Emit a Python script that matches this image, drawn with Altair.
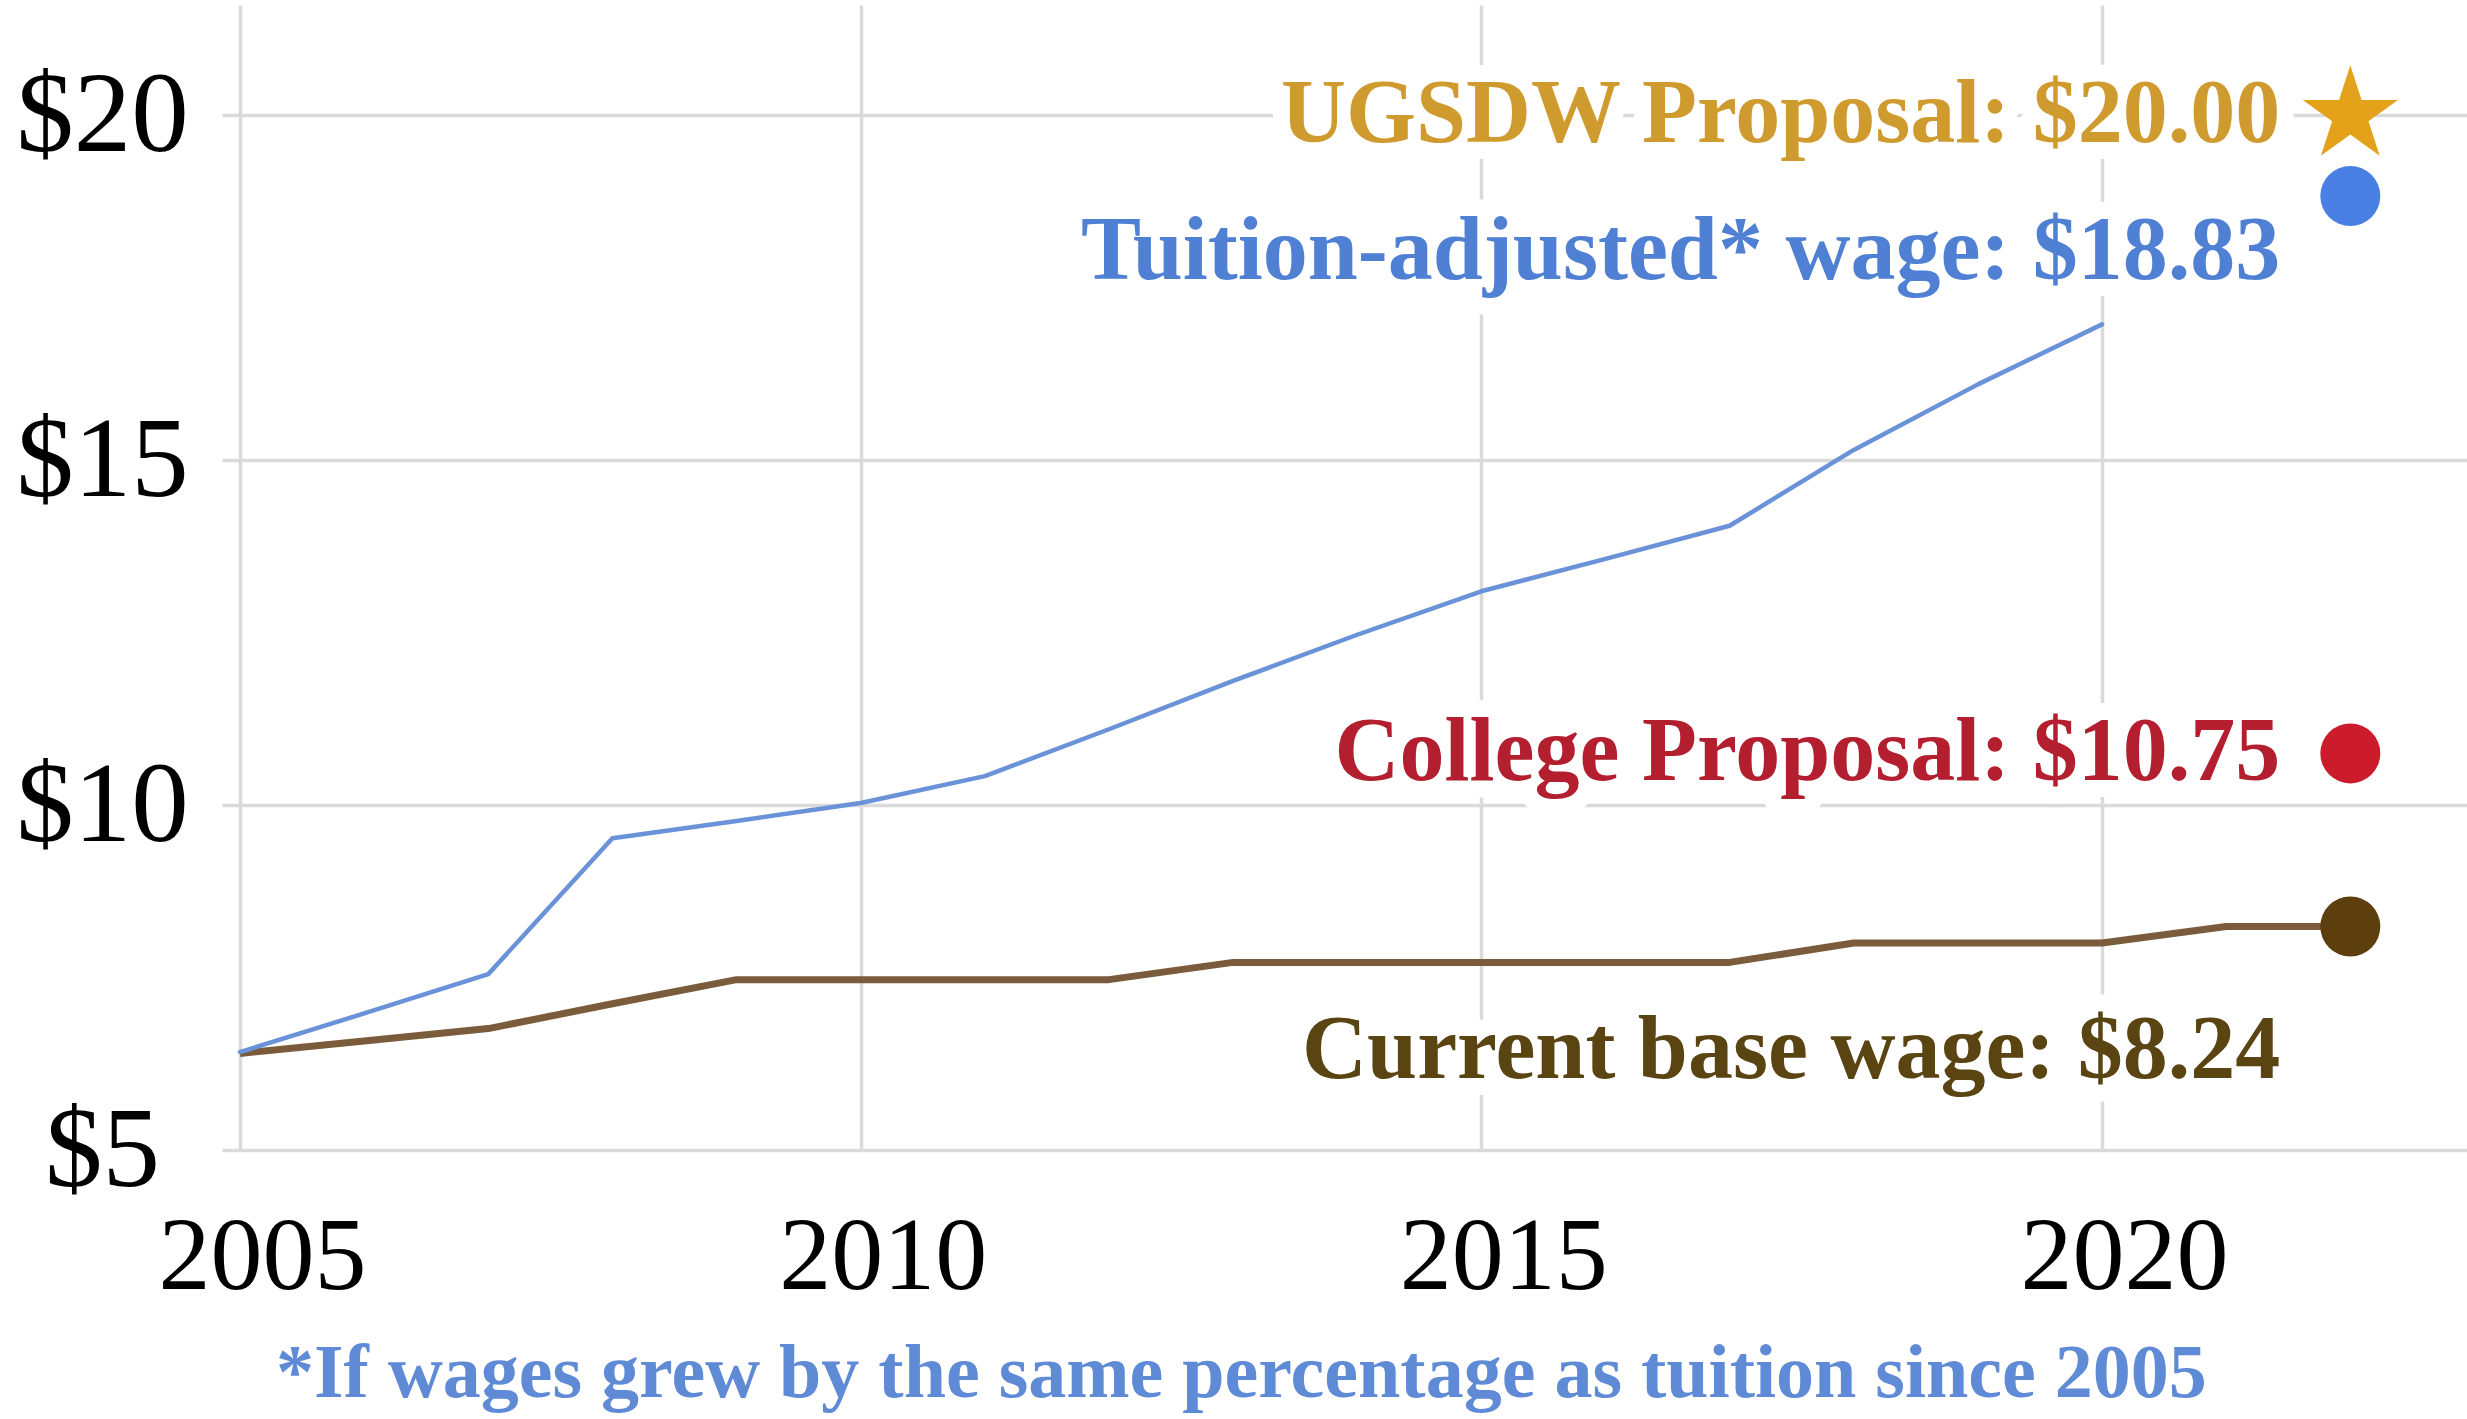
import altair as alt
import pandas as pd

# ---------------- data ----------------
years_tuition = list(range(2005, 2021))
tuition_adjusted = [6.42, 6.98, 7.55, 9.52, 9.77, 10.03, 10.42, 11.10, 11.80,
                    12.47, 13.10, 13.57, 14.05, 15.15, 16.10, 16.97]

years_base = list(range(2005, 2023))
base_wage = [6.40, 6.58, 6.76, 7.12, 7.47, 7.47, 7.47, 7.47, 7.72, 7.72,
             7.72, 7.72, 7.72, 8.00, 8.00, 8.00, 8.24, 8.24]

marker_year = 2022
marker_keys = ["ugsdw", "tuition", "college", "base"]
marker_labels = ["UGSDW Proposal: $20.00", "Tuition-adjusted* wage: $18.83",
                 "College Proposal: $10.75", "Current base wage: $8.24"]
marker_values = [20.00, 18.83, 10.75, 8.24]

x_ticks = [2005, 2010, 2015, 2020]
y_ticks = [5, 10, 15, 20]
footnote = "*If wages grew by the same percentage as tuition since 2005"

# ---------------- styles ----------------
SERIF = "Liberation Serif"
GRID = "#dadada"
STAR = ("M0,-1L0.2245,-0.309L0.9511,-0.309L0.3633,0.118L0.5878,0.809L0,0.382"
        "L-0.5878,0.809L-0.3633,0.118L-0.9511,-0.309L-0.2245,-0.309Z")
styles = {
    "ugsdw":   dict(text="#D09B2E", mark="#E3A21A", shape=STAR, size=10000, dy=0),
    "tuition": dict(text="#4F80D4", mark="#4A80E4", shape="circle", size=3600, dy=56),
    "college": dict(text="#B31F2E", mark="#CC1B2B", shape="circle", size=3600, dy=0),
    "base":    dict(text="#5A4412", mark="#5C3F0C", shape="circle", size=3600, dy=124),
}

tuition_df = pd.DataFrame({"year": years_tuition, "wage": tuition_adjusted})
base_df = pd.DataFrame({"year": years_base, "wage": base_wage})
marker_df = pd.DataFrame({
    "key": marker_keys,
    "year": [marker_year] * len(marker_keys),
    "wage": marker_values,
    "label": marker_labels,
})

X = alt.X("year:Q",
          scale=alt.Scale(domain=[2005, 2022.94], nice=False, zero=False),
          axis=alt.Axis(values=x_ticks, format="d", title=None, grid=True,
                        gridColor=GRID, gridWidth=3.5, domain=False, ticks=False,
                        labelFont=SERIF, labelFontSize=104, labelColor="black",
                        labelPadding=56, labelBaseline="top", labelOffset=22,
                        labelFlush=False, labelOverlap=False, labelLimit=1000))
Y = alt.Y("wage:Q",
          scale=alt.Scale(domain=[5, 21.6], nice=False, zero=False),
          axis=alt.Axis(values=y_ticks, labelExpr="'$' + datum.value", title=None,
                        grid=True, gridColor=GRID, gridWidth=3.5, domain=False,
                        ticks=True, tickSize=18, tickColor=GRID, tickWidth=3.5,
                        labelFont=SERIF, labelFontSize=115, labelColor="black",
                        labelAlign="center", labelPadding=120, labelFlush=False,
                        labelOverlap=False, labelLimit=1000))

layers = []

# white halos behind the annotation texts (hide gridlines like the original boxes)
for key in marker_keys:
    st = styles[key]
    layers.append(
        alt.Chart(marker_df).transform_filter(alt.datum.key == key)
        .mark_text(font=SERIF, fontSize=90, fontWeight="bold", align="right",
                   baseline="middle", dx=-70, dy=st["dy"], fill="white",
                   stroke="white", strokeWidth=34, strokeJoin="round")
        .encode(x=X, y=Y, text="label:N")
    )

layers.append(
    alt.Chart(base_df).mark_line(color="#7A5B3C", strokeWidth=7, strokeJoin="round")
    .encode(x=X, y=Y)
)
layers.append(
    alt.Chart(tuition_df).mark_line(color="#6A92D8", strokeWidth=4.5,
                                    strokeJoin="round", strokeCap="round")
    .encode(x=X, y=Y)
)

for key in marker_keys:
    st = styles[key]
    sub = alt.Chart(marker_df).transform_filter(alt.datum.key == key)
    layers.append(
        sub.mark_point(shape=st["shape"], size=st["size"], filled=True,
                       color=st["mark"], opacity=1, strokeWidth=0)
        .encode(x=X, y=Y)
    )
    layers.append(
        sub.mark_text(font=SERIF, fontSize=90, fontWeight="bold", align="right",
                      baseline="middle", dx=-70, dy=st["dy"], color=st["text"])
        .encode(x=X, y=Y, text="label:N")
    )

chart = (
    alt.layer(*layers)
    .properties(
        width=2227, height=1145,
        padding={"left": 240, "top": 5, "right": 0, "bottom": 269},
        autosize=alt.AutoSizeParams(type="none"),
        background="white",
        title=alt.TitleParams(text=footnote, orient="bottom", anchor="middle",
                              frame="bounds", font=SERIF, fontSize=76,
                              fontWeight="bold", color="#5F8AD6", offset=28),
    )
    .configure_view(stroke=None)
)

chart.save("out.html", embed_options={"renderer": "svg", "actions": False})
